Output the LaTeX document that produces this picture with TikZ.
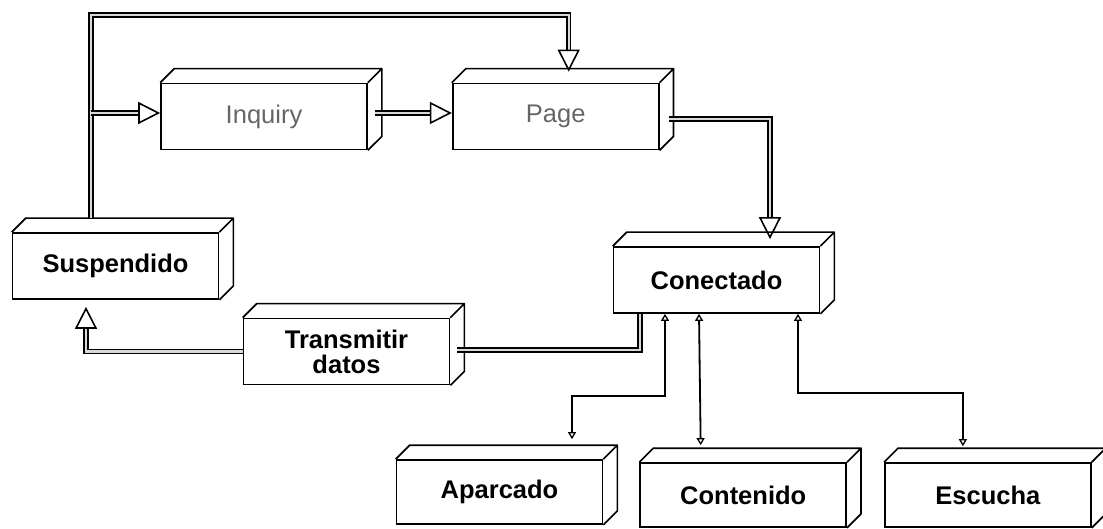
\documentclass[tikz,border=0pt]{standalone}
\usepackage{fontspec}
\setmainfont{Liberation Sans}
\usetikzlibrary{positioning, arrows.meta, calc}

\begin{document}
\begin{tikzpicture}[
    x=1pt, y=1pt,
    node distance=36pt,
    box/.style={rectangle, draw=black, line width=1.7pt, minimum width=206pt, minimum height=66pt, inner sep=2pt, align=center, font=\bfseries\fontsize{25.5}{25}\selectfont},
    soft/.style={box, text=black!60, font=\fontsize{25.5}{25}\selectfont},
    face/.style={draw=black, line width=1.7pt, line join=round},
    dbl/.style={draw=black, line width=1.5pt, double=black!15, double distance=2.4pt},
    hollow/.style={line width=1.6pt, -{Triangle[open, length=22pt, width=22pt]}},
    lnk/.style={line width=1.8pt, {Triangle[open, length=7pt, width=8pt, line width=1.3pt]}-{Triangle[open, length=7pt, width=8pt, line width=1.3pt]}}
]
\useasboundingbox (0,0) rectangle (1103,528);

% --- nodes ---
\node[soft] (inq) at (264,411.5) {Inquiry};
\node[soft, right=84pt of inq] (page) {Page};
\node[box] (susp) at (115.5,262) {Suspendido};
\node[box] (con) at (716.5,248) {Conectado};
\node[box] (trans) at (346.5,176.5) {Transmitir\\datos};
% bottom row
\node[box, minimum height=64pt] (apar) at (499.5,36) {Aparcado};
\node[box, minimum height=64pt, right=of apar, yshift=-3pt] (cont) {Contenido};
\node[box, minimum height=64pt, right=37pt of cont] (esc) {Escucha};

% --- top and side faces of the boxes ---
\foreach \n in {inq, page, susp, con, trans, apar, cont, esc}
  \draw[face] (\n.north west) -- ++(14,14) -- ($(\n.north east)+(14,14)$) -- ($(\n.south east)+(14,14)$) -- (\n.south east)
    (\n.north east) -- ++(14,14);

% --- connectors ---
% Suspendido up and over into Page
\coordinate (spine) at (91,513);
\draw[dbl] ($(susp.north)+(-24.5,14)$) -- (spine) -| ($(page.north)+(13,33)$);
\draw[hollow] ($(page.north)+(13,33)$) -- ($(page.north)+(13,11)$);

% branch into Inquiry
\draw[dbl] ($(inq.west -| spine)+(0,3.5)$) -- ($(inq.west)+(-22,3.5)$);
\draw[hollow] ($(inq.west)+(-22,3.5)$) -- ($(inq.west)+(0,3.5)$);

% Inquiry -> Page
\draw[dbl] ($(inq.east)+(7,3.5)$) -- ($(page.west)+(-22,3.5)$);
\draw[hollow] ($(page.west)+(-22,3.5)$) -- ($(page.west)+(0,3.5)$);

% Page -> Conectado
\draw[dbl] ($(page.east)+(9,-2.5)$) -| ($(con.north)+(53.5,29)$);
\draw[hollow] ($(con.north)+(53.5,29)$) -- ($(con.north)+(53.5,7)$);

% Transmitir datos -> Suspendido, and on to Conectado
\draw[dbl] (trans.west) -| ($(susp.south)+(-29.5,-29)$);
\draw[hollow] ($(susp.south)+(-29.5,-29)$) -- ($(susp.south)+(-29.5,-7)$);
\draw[dbl] ($(trans.east)+(7,1.5)$) -| ($(con.south)+(-76.5,0)$);

% Conectado <-> bottom row
\draw[lnk] ($(con.south)+(-51.5,0)$) |- ($(apar.north)+(72.5,63)$) -- ($(apar.north)+(72.5,20)$);
\draw[lnk] ($(con.south)+(-17.5,0)$) -- ($(cont.north)+(-42.5,17)$);
\draw[lnk] ($(con.south)+(81.5,0)$) |- ($(esc.north)+(-25,69)$) -- ($(esc.north)+(-25,16)$);

\end{tikzpicture}
\end{document}
